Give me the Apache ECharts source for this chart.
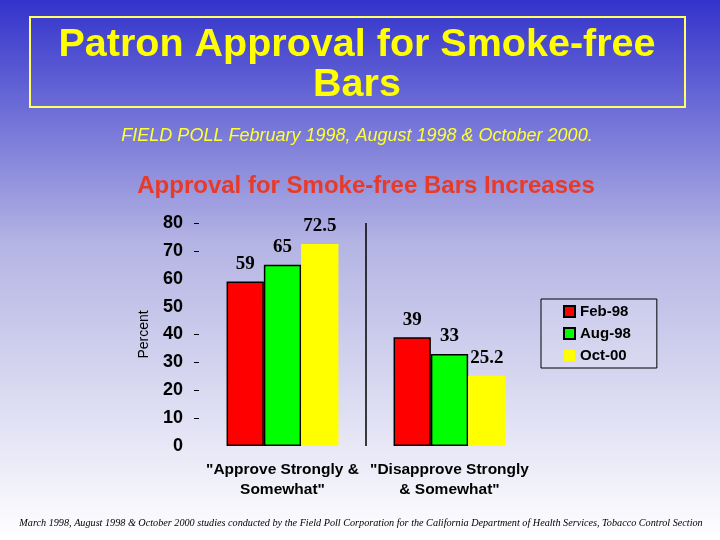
<!DOCTYPE html>
<html><head><meta charset="utf-8">
<script src="https://cdn.jsdelivr.net/npm/echarts@6/dist/echarts.min.js"></script>
<style>html,body{margin:0;padding:0;} #c{width:720px;height:540px;}</style>
</head><body><div id="c"></div>
<script>
const categories = ['"Approve Strongly &\nSomewhat"', '"Disapprove Strongly\n& Somewhat"'];
const seriesNames = ['Feb-98', 'Aug-98', 'Oct-00'];
const feb98 = [59, 39];
const aug98 = [65, 33];
const oct00 = [72.5, 25.2];
const yTickValues = [10, 20, 30, 40, 70, 80];
const seriesColors = ['#ff0000', '#00ff00', '#ffff00'];

const chart = echarts.init(document.getElementById('c'), null, {renderer: 'canvas'});
const sans = 'Liberation Sans, Arial, sans-serif';
const serif = 'Liberation Serif, Times New Roman, serif';
const labelStyle = {show: true, position: 'top', distance: 8, color: '#000', fontFamily: serif, fontWeight: 'bold', fontSize: 19};
function mk(name, data, color, border) {
  return {
    name: name, type: 'bar', data: data, barGap: '0%', barCategoryGap: '33%',
    itemStyle: {color: color, borderColor: border ? '#000' : color, borderWidth: border ? 1.5 : 0},
    label: labelStyle
  };
}
chart.setOption({
  animation: false,
  backgroundColor: {type: 'linear', x: 0, y: 0, x2: 0, y2: 1, colorStops: [
    {offset: 0, color: '#3333cc'}, {offset: 0.45, color: '#b4b4e4'}, {offset: 1, color: '#ffffff'}]},
  title: [
    {text: 'Patron Approval for Smoke-free\nBars', left: 352, textAlign: 'center', top: 20,
     textStyle: {color: '#ffff00', fontFamily: sans, fontWeight: 'bold', fontSize: 39.5, lineHeight: 40}},
    {text: 'FIELD POLL February 1998, August 1998 & October 2000.', left: 352, textAlign: 'center', top: 122,
     textStyle: {color: '#ffff33', fontFamily: sans, fontStyle: 'italic', fontWeight: 'normal', fontSize: 18}},
    {text: 'Approval for Smoke-free Bars Increases', left: 361, textAlign: 'center', top: 169,
     textStyle: {color: '#e83a28', fontFamily: sans, fontWeight: 'bold', fontSize: 24}},
    {text: 'March 1998, August 1998 & October 2000 studies conducted by the Field Poll Corporation for the California Department of Health Services, Tobacco Control Section',
     left: 356, textAlign: 'center', top: 513,
     textStyle: {color: '#000', fontFamily: serif, fontStyle: 'italic', fontWeight: 'normal', fontSize: 10.2}}
  ],
  graphic: [{type: 'rect', shape: {x: 30, y: 17, width: 655, height: 90}, style: {fill: 'none', stroke: '#ffff66', lineWidth: 2}}],
  legend: {
    orient: 'vertical', left: 541, top: 299, data: seriesNames, icon: 'rect',
    itemWidth: 11, itemHeight: 11, itemGap: 7,
    padding: [5, 26, 5, 22],
    borderColor: '#000', borderWidth: 1, backgroundColor: 'rgba(255,255,255,0.15)',
    textStyle: {color: '#000', fontFamily: sans, fontWeight: 'bold', fontSize: 15}
  },
  grid: {left: 199, right: 187, top: 223, bottom: 94},
  xAxis: {
    type: 'category', data: categories,
    axisLine: {show: false}, axisTick: {show: false},
    splitLine: {show: true, interval: 0, showMinLine: false, showMaxLine: false, lineStyle: {color: '#000', width: 1.5}},
    axisLabel: {interval: 0, hideOverlap: false, color: '#000', fontFamily: sans, fontWeight: 'bold', fontSize: 15.5, lineHeight: 20, margin: 14}
  },
  yAxis: {
    type: 'value', min: 0, max: 80, interval: 10,
    name: 'Percent', nameLocation: 'middle', nameGap: 48,
    nameTextStyle: {color: '#000', fontFamily: sans, fontSize: 14},
    axisLine: {show: false},
    axisTick: {show: true, customValues: yTickValues, length: 5, lineStyle: {color: '#000'}},
    splitLine: {show: false},
    axisLabel: {color: '#000', fontFamily: sans, fontWeight: 'bold', fontSize: 18, margin: 16}
  },
  series: [
    mk(seriesNames[0], feb98, seriesColors[0], true),
    mk(seriesNames[1], aug98, seriesColors[1], true),
    mk(seriesNames[2], oct00, seriesColors[2], false)
  ]
});
</script></body></html>
